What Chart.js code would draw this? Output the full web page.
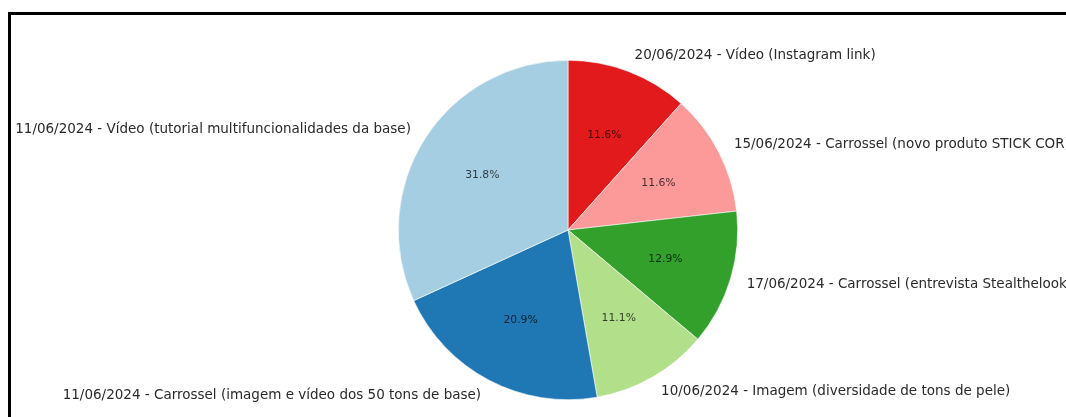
<!DOCTYPE html>
<html>
<head>
<meta charset="utf-8">
<script src="https://cdn.jsdelivr.net/npm/chart.js@4"></script>
<style>
  html, body { margin: 0; padding: 0; background: #fff; overflow: hidden; }
  #frame {
    position: absolute; left: 8px; top: 12px;
    width: 1100px; height: 420px;
    border-left: 3px solid #000; border-top: 3px solid #000;
  }
  #chart { display: block; }
</style>
</head>
<body>
<div id="frame"><canvas id="chart" width="1100" height="402"></canvas></div>
<script>
// publicações (ordem horária a partir do topo)
const labels = [
    '20/06/2024 - Vídeo (Instagram link)',
    '15/06/2024 - Carrossel (novo produto STICK COR)',
    '17/06/2024 - Carrossel (entrevista Stealthelook)',
    '10/06/2024 - Imagem (diversidade de tons de pele)',
    '11/06/2024 - Carrossel (imagem e vídeo dos 50 tons de base)',
    '11/06/2024 - Vídeo (tutorial multifuncionalidades da base)'
];
const values = [11.6, 11.6, 12.9, 11.1, 20.9, 31.8];
const colors = ['#e31a1c', '#fb9a99', '#33a02c', '#b2df8a', '#1f78b4', '#a6cee3'];

// desenha rótulos fora e percentagens dentro, como no matplotlib
const pieLabels = {
    id: 'pieLabels',
    afterDatasetsDraw(chart) {
        const ctx = chart.ctx;
        const meta = chart.getDatasetMeta(0);
        const data = chart.data.datasets[0].data;
        const total = data.reduce((a, b) => a + b, 0);
        ctx.save();
        ctx.textBaseline = 'middle';
        meta.data.forEach((arc, i) => {
            const p = arc.getProps(['x', 'y', 'startAngle', 'endAngle', 'outerRadius'], true);
            const mid = (p.startAngle + p.endAngle) / 2;
            const c = Math.cos(mid), s = Math.sin(mid);
            // percentagem
            ctx.font = '10.8px "DejaVu Sans"';
            ctx.fillStyle = 'rgba(0,0,0,0.72)';
            ctx.textAlign = 'center';
            ctx.fillText((data[i] / total * 100).toFixed(1) + '%', p.x + c * p.outerRadius * 0.6, p.y + s * p.outerRadius * 0.6);
            // rótulo
            ctx.font = '13.5px "DejaVu Sans"';
            ctx.fillStyle = '#2a2a2a';
            ctx.textAlign = c >= 0 ? 'left' : 'right';
            ctx.fillText(chart.data.labels[i], p.x + c * p.outerRadius * 1.1, p.y + s * p.outerRadius * 1.1);
        });
        ctx.restore();
    }
};

new Chart(document.getElementById('chart').getContext('2d'), {
    type: 'pie',
    data: {
        labels: labels,
        datasets: [{
            data: values,
            backgroundColor: colors,
            borderColor: '#ffffff',
            borderWidth: 0.6
        }]
    },
    options: {
        responsive: false,
        animation: false,
        layout: { padding: { left: 387, right: 373, top: 45, bottom: 17 } },
        plugins: {
            legend: { display: false },
            tooltip: { enabled: false }
        }
    },
    plugins: [pieLabels]
});
</script>
</body>
</html>
